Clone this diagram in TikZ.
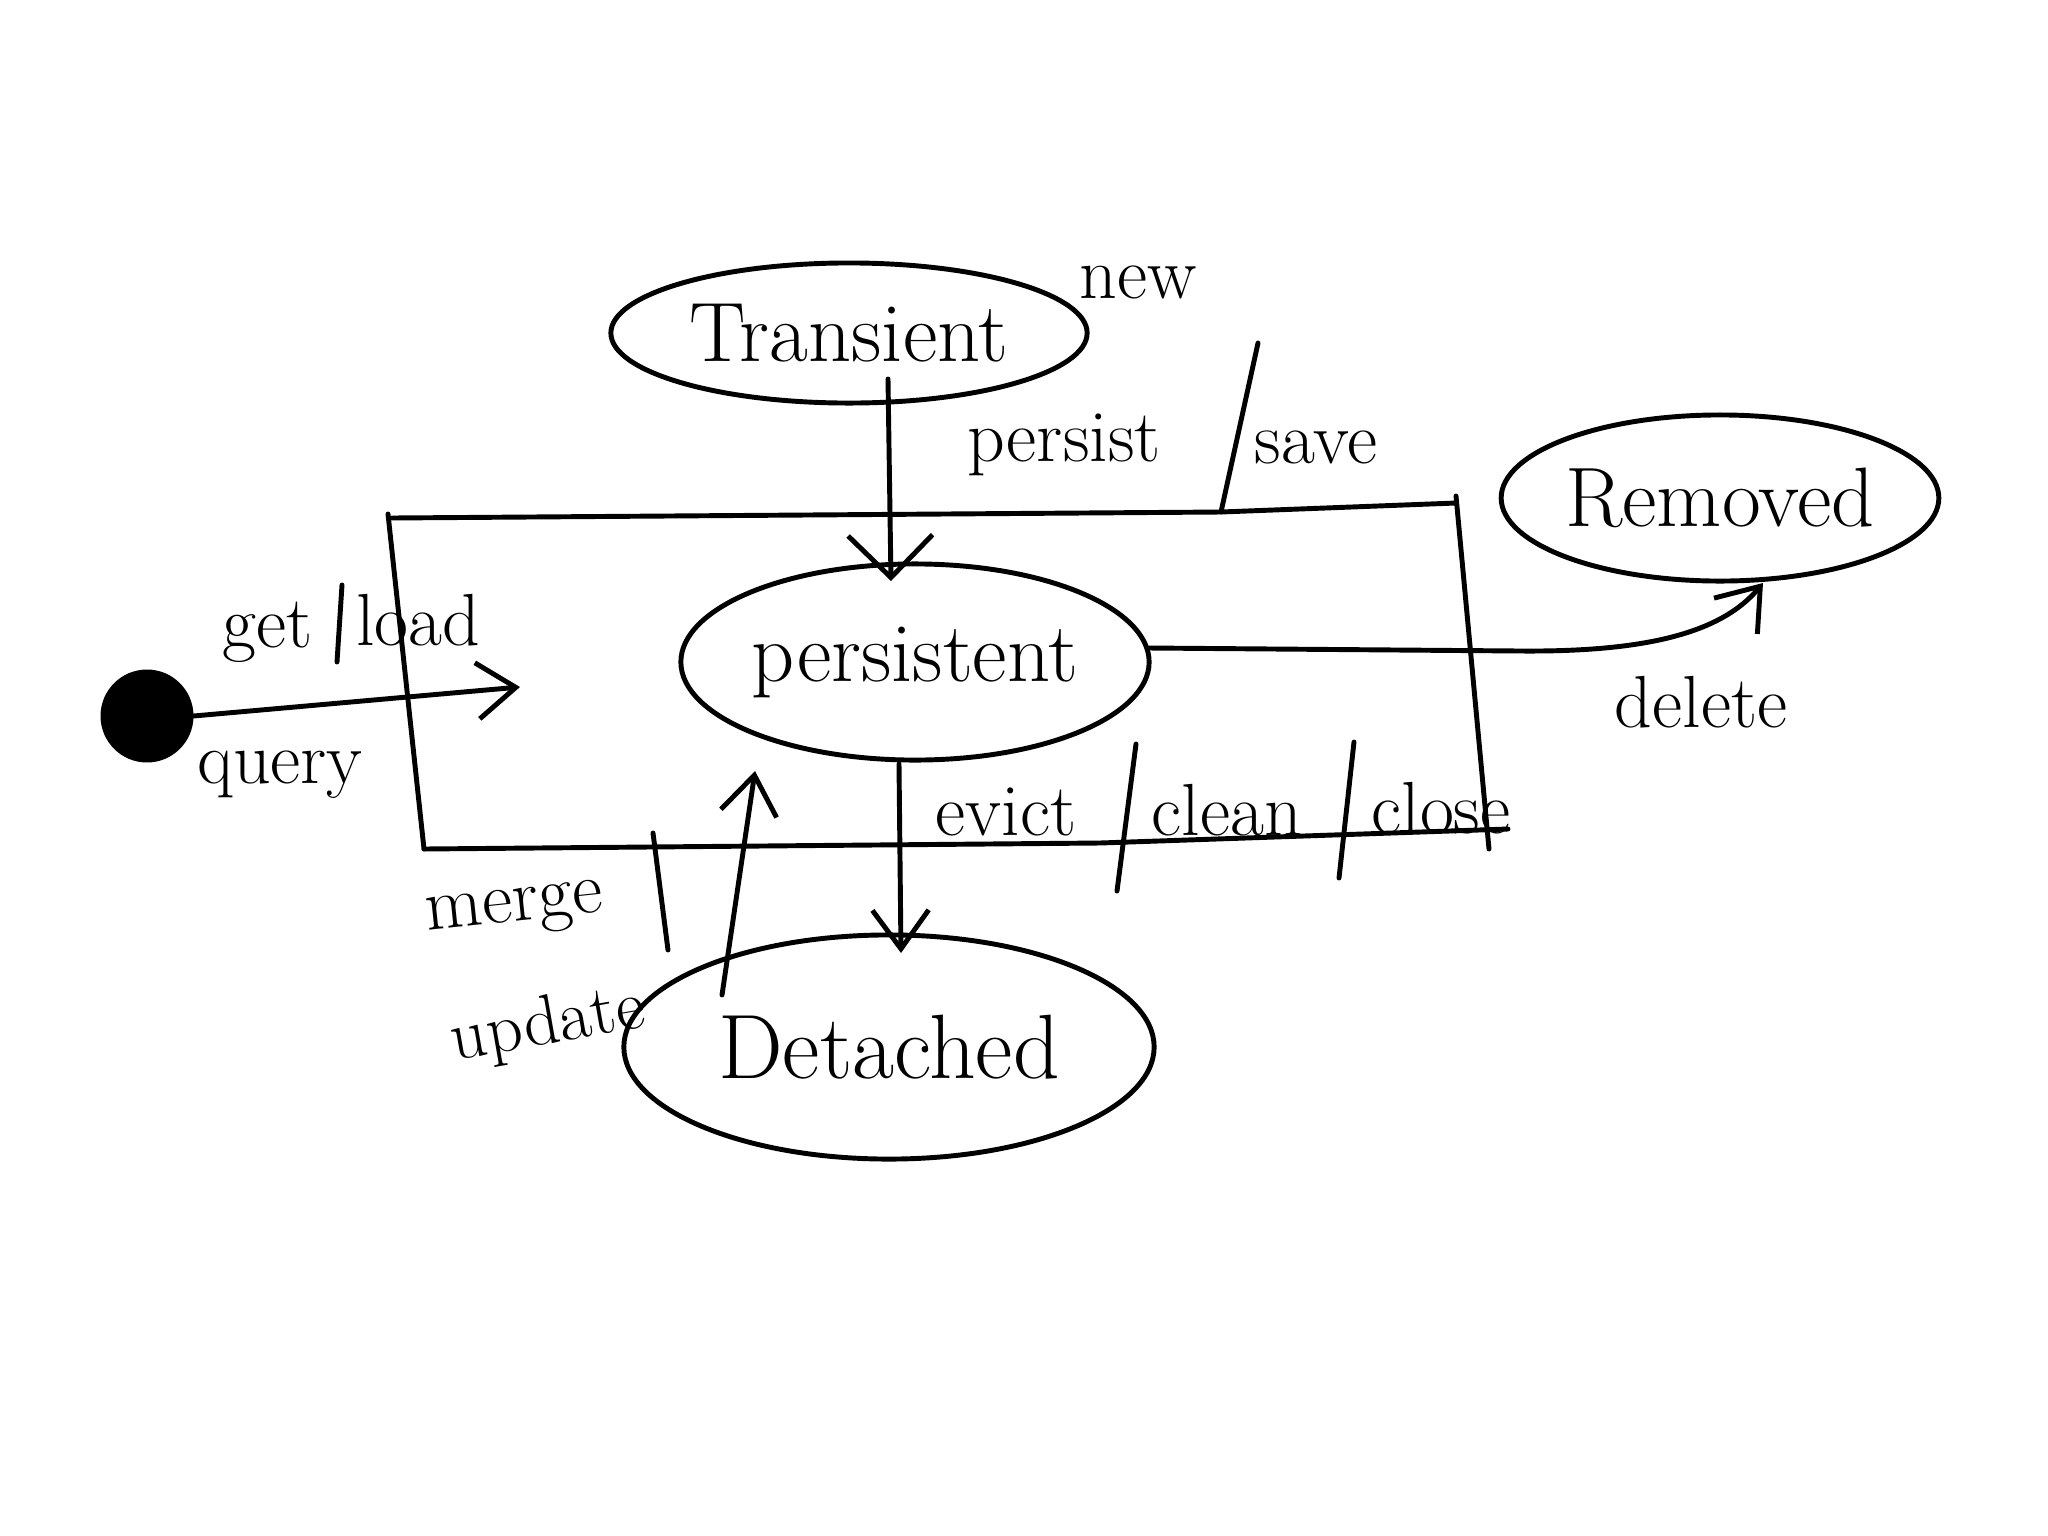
\documentclass[tikz,border=0pt]{standalone}
\usepackage{fontspec}
\usetikzlibrary{arrows.meta,calc,shapes.geometric}
\begin{document}
\begin{tikzpicture}[x=0.01cm,y=-0.01cm,
  ink/.style={line width=1.4pt,line cap=round,line join=round},
  statenode/.style={ellipse,draw,ink,inner sep=0pt,font=\fontsize{24}{28}\selectfont},
  lbl/.style={inner sep=0pt,font=\fontsize{21}{25}\selectfont},
  arr/.style={ink,-{Straight Barb[length=11pt,width=16pt,line width=1.4pt]}},
  bigarr/.style={ink,-{Straight Barb[length=12pt,width=24pt,line width=1.4pt]}},
  slash/.style={ink}]
\useasboundingbox[fill=white] (0,0) rectangle (2048,1536);

% states
\node[statenode,minimum width=4.76cm,minimum height=1.40cm] (transient) at (849,333) {Transient};
\node[statenode,minimum width=4.68cm,minimum height=1.96cm] (persistent) at (915,662) {persistent};
\node[statenode,minimum width=4.30cm,minimum height=1.66cm] (removed) at (1720,498) {Removed};
\node[statenode,minimum width=5.30cm,minimum height=2.24cm,font=\fontsize{26}{30}\selectfont] (detached) at (889,1047) {Detached};

% start point
\node[circle,draw,ink,fill=black,minimum size=0.88cm,inner sep=0pt] (start) at (147,716) {};
\coordinate (qtip) at (520,687);

% persistence context box
\draw[ink] (388,514) -- (424,849);
\draw[ink] (392,518) -- (1221,512) -- (1456,503);
\draw[ink] (1456,496) -- (1489,849);
\draw[ink] (424,849) -- (1100,843) -- (1508,829);

% connectors
\draw[arr] (start.east) -- (qtip);
\draw[bigarr] ($(transient.center)+(39,46)$) -- ($(persistent.center)+(-24,-81)$);
\draw[arr] ($(persistent.center)+(-16,102)$) -- ($(detached.center)+(12,-94)$);
\draw[arr] ($(detached.center)+(-167,-52)$) -- ($(persistent.center)+(-160,109)$);
\draw[arr] ($(persistent.center)+(234,-14)$) -- (1520,651)
  .. controls (1640,652) and (1720,635) .. ($(removed.center)+(43,85)$);

% labels
\node[lbl] (new) at (1138,282) {new};
\node[lbl] (persistlbl) at (1064,445) {persist};
\node[lbl] (save) at (1316,447) {save};
\node[lbl] (get) at (268,632) {get};
\node[lbl] (load) at (418,620) {load};
\node[lbl] (query) at (280,775) {query};
\node[lbl] (delete) at (1701,702) {delete};
\node[lbl] (evict) at (1006,812) {evict};
\node[lbl] (clean) at (1227,810) {clean};
\node[lbl] (close) at (1441,808) {close};
\node[lbl,rotate=6] (merge) at (515,912) {merge};
\node[lbl,rotate=10,font=\fontsize{20}{24}\selectfont] (update) at (548,1026) {update};

% separators
\draw[slash] (342,585) -- (337,662);
\draw[slash] (1258,343) -- (1221,512);
\draw[slash] (653,833) -- (668,950);
\draw[slash] (1136,744) -- (1117,891);
\draw[slash] (1354,742) -- (1339,878);
\end{tikzpicture}
\end{document}
